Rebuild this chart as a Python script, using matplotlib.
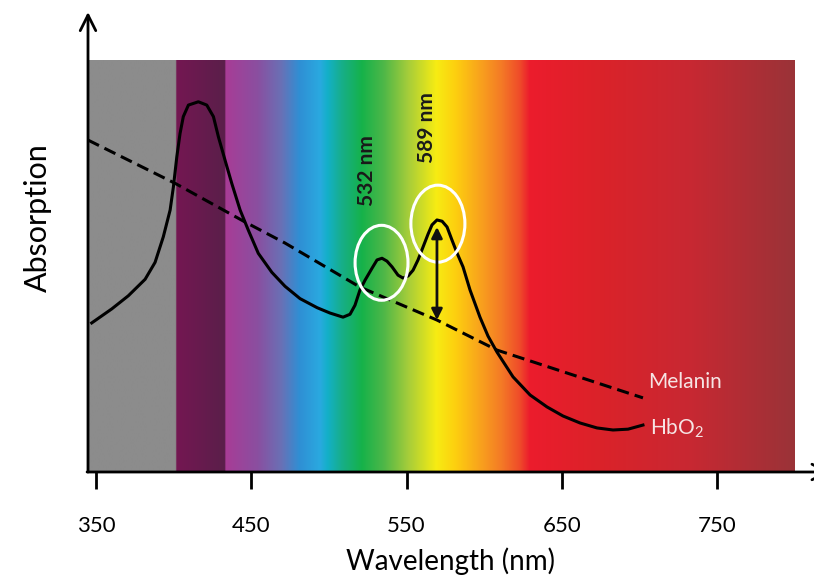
import numpy as np
import matplotlib
matplotlib.use('Agg')
import matplotlib.pyplot as plt
from matplotlib.patches import Ellipse

plt.rcParams['font.family'] = ['Lato', 'DejaVu Sans']
plt.rcParams['mathtext.fontset'] = 'custom'
plt.rcParams['mathtext.rm'] = 'Lato'

# HbO2 absorption (arbitrary units)
hbo2_wl = [347.2, 360.1, 370.8, 381.6, 388.0, 393.3, 397.7, 399.8, 402.0, 404.1,
           406.2, 409.5, 415.9, 421.3, 425.6, 428.8, 433.1, 437.4, 442.8, 448.1,
           454.5, 463.2, 471.7, 481.4, 492.4, 500.7, 509.1, 513.6, 516.8, 520.0,
           523.3, 527.8, 531.0, 534.2, 537.4, 540.7, 544.5, 547.7, 551.0, 554.2,
           557.4, 560.6, 563.9, 566.4, 569.6, 572.9, 576.1, 579.3, 582.5, 586.4,
           590.9, 597.3, 602.5, 608.3, 618.6, 629.6, 640.5, 650.8, 661.8, 672.7,
           683.0, 692.7, 702.3]
hbo2_abs = [0.362, 0.396, 0.428, 0.468, 0.509, 0.571, 0.636, 0.692, 0.765, 0.822,
            0.863, 0.891, 0.899, 0.891, 0.863, 0.814, 0.757, 0.701, 0.636, 0.587,
            0.531, 0.485, 0.451, 0.421, 0.399, 0.386, 0.376, 0.383, 0.405, 0.442,
            0.466, 0.495, 0.515, 0.519, 0.512, 0.498, 0.478, 0.471, 0.476, 0.490,
            0.515, 0.546, 0.578, 0.600, 0.612, 0.609, 0.595, 0.563, 0.532, 0.498,
            0.442, 0.376, 0.330, 0.291, 0.231, 0.187, 0.158, 0.136, 0.119, 0.107,
            0.102, 0.104, 0.114]

# Melanin absorption
mel_wl = [344.8, 400.9, 446.0, 471.7, 520.0, 569.6, 608.3, 702.3]
mel_abs = [0.806, 0.701, 0.607, 0.556, 0.449, 0.369, 0.296, 0.180]

xticks = [350, 450, 550, 650, 750]

# colour stops of the visible spectrum background
spec_wl = [344.8, 401.4, 401.6, 433.0, 433.2, 454, 469, 481, 494, 499, 508, 521,
           535, 551, 569, 581, 596, 611, 623, 629, 671, 732, 800]
spec_col = ['#8c8c8c', '#8c8c8c', '#741752', '#5a1f4a', '#a83c96', '#8a4fa0', '#6a70b5',
            '#2f8fd4', '#2aa9e0', '#13b0c8', '#17ae8a', '#15b24a', '#4db748', '#a6cd3a',
            '#f7ec13', '#fdd00f', '#f9a61c', '#f47a26', '#ef4a2a', '#ec1c2d', '#dc2229',
            '#c82832', '#9a3338']

XMIN, XMAX = 344.8, 811.2
YMAX = 1.117

fig = plt.figure(figsize=(8.14, 5.83), dpi=100)
ax = fig.add_axes([88 / 814, 111 / 583, (812 - 88) / 814, 460 / 583])

# spectrum band
grid = np.arange(344.8, 800.0, 0.25)
rgb = np.array([matplotlib.colors.to_rgb(c) for c in spec_col])
img = np.stack([np.interp(grid, spec_wl, rgb[:, k]) for k in range(3)], axis=-1)
ax.imshow(img[np.newaxis, :, :], extent=(344.8, 800, 0, 1), aspect='auto',
          interpolation='bilinear', zorder=0)

ax.plot(mel_wl, mel_abs, color='black', lw=2.2, dashes=(4, 2), zorder=3)
ax.plot(hbo2_wl, hbo2_abs, color='black', lw=2.2, zorder=3, solid_joinstyle='round')

# highlighted peaks
ax.add_patch(Ellipse((533.9, 0.508), 34.1, 0.182, fill=False, ec='white', lw=2.2, zorder=4))
ax.add_patch(Ellipse((570.2, 0.603), 34.8, 0.187, fill=False, ec='white', lw=2.2, zorder=4))
ax.annotate('', xy=(569.6, 0.595), xytext=(569.6, 0.369),
            arrowprops=dict(arrowstyle='<|-|>', color='#111111', lw=2, mutation_scale=16,
                            shrinkA=0, shrinkB=0), zorder=5)
ax.text(524.6, 0.731, '532 nm', rotation=90, ha='center', va='center',
        fontsize=15, fontweight='bold', color='#1a1a1a')
ax.text(563.2, 0.837, '589 nm', rotation=90, ha='center', va='center',
        fontsize=15, fontweight='bold', color='#1a1a1a')

ax.text(705.6, 0.218, 'Melanin', ha='left', va='center', fontsize=15, color='#f6e4e4')
ax.text(706.8, 0.107, 'HbO$_2$', ha='left', va='center', fontsize=15, color='#f6e4e4')

ax.set_xlim(XMIN, XMAX)
ax.set_ylim(0, YMAX)
for s in ax.spines.values():
    s.set_visible(False)

# axis arrows
ax.annotate('', xy=(XMIN, YMAX), xytext=(XMIN, 0),
            arrowprops=dict(arrowstyle='->', color='black', lw=2, mutation_scale=28,
                            shrinkA=0, shrinkB=0), annotation_clip=False)
ax.annotate('', xy=(XMAX + 12, 0), xytext=(XMIN - 0.6, 0),
            arrowprops=dict(arrowstyle='->', color='black', lw=2, mutation_scale=28,
                            shrinkA=0, shrinkB=0), annotation_clip=False)

ax.set_xticks(xticks)
ax.set_xticklabels([str(t) for t in xticks])
ax.set_yticks([])
ax.tick_params(axis='x', direction='out', length=12, width=2, pad=20, labelsize=16)
ax.set_xlabel('Wavelength (nm)', fontsize=20, labelpad=8)
ax.set_ylabel('Absorption', fontsize=22)
ax.yaxis.set_label_coords(-0.050, 0.554)

fig.savefig('out.png', dpi=100)
